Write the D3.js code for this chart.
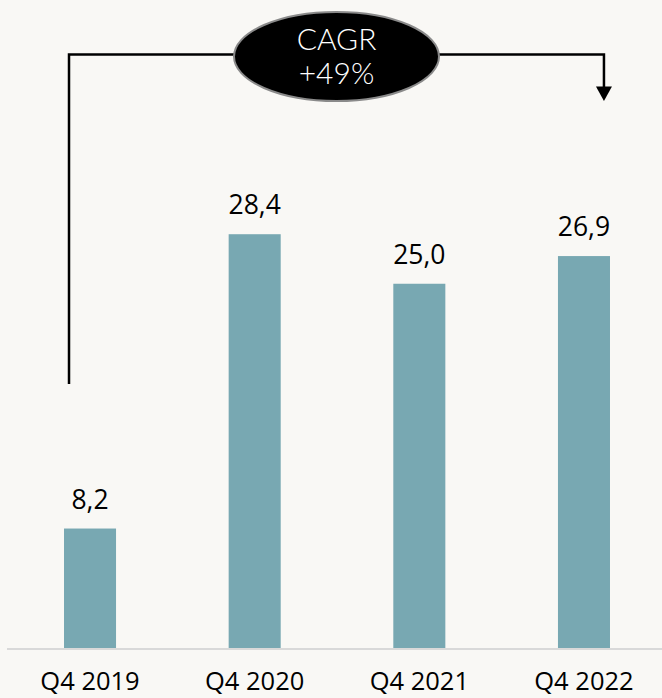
<!DOCTYPE html>
<html lang="en">
<head>
    <meta charset="UTF-8">
    <title>CAGR bars</title>
    <script src="https://d3js.org/d3.v7.min.js"></script>
    <style>
        html, body { margin: 0; padding: 0; background: #f9f8f5; }
        svg { display: block; }
    </style>
</head>
<body>
    <div id="chart"></div>
    <script>
        // data
        const categories = ["Q4 2019", "Q4 2020", "Q4 2021", "Q4 2022"]
        const values = [8.2, 28.4, 25.0, 26.9]
        const cagrLabel = ["CAGR", "+49%"]

        const width = 662
        const height = 698
        const baseY = 648

        const svg = d3.select("#chart")
          .append("svg")
            .attr("width", width)
            .attr("height", height)

        svg.append("rect")
            .attr("width", width).attr("height", height)
            .attr("fill", "#f9f8f5")

        const x = d3.scaleBand()
            .domain(categories)
            .range([7.7, 666.3])
            .paddingInner(0.684)
            .paddingOuter(0.342)

        const y = d3.scaleLinear()
            .domain([0, 30])
            .range([baseY, baseY - 30 * 14.57])

        // comma as decimal sign
        const fmt = d3.formatLocale({ decimal: ",", thousands: ".", grouping: [3], currency: ["", "€"] }).format(".1f")

        // bars
        svg.selectAll("rect.bar")
          .data(values)
          .enter()
          .append("rect")
            .attr("class", "bar")
            .attr("x", (d, i) => x(categories[i]))
            .attr("y", d => y(d))
            .attr("width", x.bandwidth())
            .attr("height", d => y(0) - y(d))
            .attr("fill", "#78a8b2")

        // value labels
        svg.selectAll("text.val")
          .data(values)
          .enter()
          .append("text")
            .attr("class", "val")
            .attr("x", (d, i) => x(categories[i]) + x.bandwidth() / 2)
            .attr("y", d => y(d) - 20)
            .attr("text-anchor", "middle")
            .style("font-family", "'Open Sans', sans-serif")
            .style("font-size", "26.5px")
            .attr("fill", "#000")
            .text(d => fmt(d))

        // baseline
        svg.append("line")
            .attr("x1", 7).attr("x2", width)
            .attr("y1", baseY + 1).attr("y2", baseY + 1)
            .attr("stroke", "#d9d9d9")
            .attr("stroke-width", 2)

        // x axis labels
        const xAxis = svg.append("g")
            .attr("transform", "translate(0," + baseY + ")")
            .call(d3.axisBottom(x).tickSize(0).tickPadding(24))
        xAxis.select(".domain").remove()
        xAxis.selectAll("text")
            .style("font-family", "'Open Sans', sans-serif")
            .style("font-size", "25.5px")
            .attr("fill", "#000")
            .attr("dy", "0.71em")

        // CAGR bracket
        const lx = x(categories[0]) + 5
        const rx = x(categories[categories.length - 1]) + 46
        const topY = 54.5
        const cx = 336.5, cy = 56.5

        svg.append("path")
            .attr("d", "M" + lx + "," + 384 + "V" + topY + "H" + rx + "V" + 88)
            .attr("fill", "none")
            .attr("stroke", "#000")
            .attr("stroke-width", 2.5)

        svg.append("path")
            .attr("d", "M" + (rx - 8) + ",86.5L" + (rx + 8) + ",86.5L" + rx + ",101Z")
            .attr("fill", "#000")

        svg.append("ellipse")
            .attr("cx", cx).attr("cy", cy)
            .attr("rx", 102.5).attr("ry", 44.5)
            .attr("fill", "#000")
            .attr("stroke", "#8a8a8a")
            .attr("stroke-width", 2)

        svg.selectAll("text.cagr")
          .data(cagrLabel)
          .enter()
          .append("text")
            .attr("class", "cagr")
            .attr("x", cx)
            .attr("y", (d, i) => 50 + i * 34)
            .attr("text-anchor", "middle")
            .style("font-family", "Lato, sans-serif")
            .style("font-weight", 300)
            .style("font-size", "30px")
            .attr("fill", "#fff")
            .text(d => d)
    </script>
</body>
</html>
